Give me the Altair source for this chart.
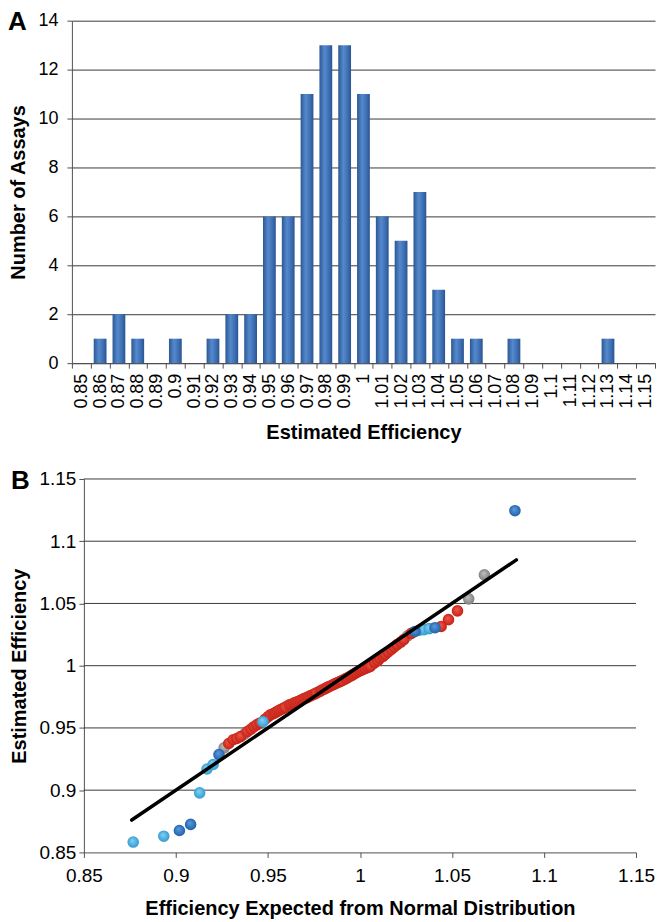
import altair as alt
import pandas as pd

# ---------------- Panel A: histogram ----------------
bins = ["0.85", "0.86", "0.87", "0.88", "0.89", "0.9", "0.91", "0.92", "0.93", "0.94",
        "0.95", "0.96", "0.97", "0.98", "0.99", "1", "1.01", "1.02", "1.03", "1.04",
        "1.05", "1.06", "1.07", "1.08", "1.09", "1.1", "1.11", "1.12", "1.13", "1.14", "1.15"]
counts = [0, 1, 2, 1, 0, 1, 0, 1, 2, 2,
          6, 6, 11, 13, 13, 11, 6, 5, 7, 3,
          1, 1, 0, 1, 0, 0, 0, 0, 1, 0, 0]
y_ticks_a = [0, 2, 4, 6, 8, 10, 12, 14]

# ---------------- Panel B: normal Q-Q plot ----------------
qq_x = [0.8768, 0.8934, 0.9019, 0.9080, 0.9129, 0.9169, 0.9202, 0.9234, 0.9262, 0.9287,
        0.9311, 0.9331, 0.9351, 0.9372, 0.9388, 0.9408, 0.9424, 0.9440, 0.9457, 0.9473,
        0.9485, 0.9501, 0.9513, 0.9530, 0.9542, 0.9554, 0.9566, 0.9580, 0.9593, 0.9605,
        0.9617, 0.9629, 0.9641, 0.9652, 0.9663, 0.9675, 0.9686, 0.9697, 0.9708, 0.9719,
        0.9730, 0.9741, 0.9752, 0.9762, 0.9773, 0.9784, 0.9794, 0.9805, 0.9816, 0.9826,
        0.9837, 0.9848, 0.9858, 0.9869, 0.9880, 0.9891, 0.9902, 0.9913, 0.9924, 0.9935,
        0.9947, 0.9958, 0.9969, 0.9981, 0.9993, 1.0005, 1.0017, 1.0030, 1.0044, 1.0056,
        1.0068, 1.0080, 1.0097, 1.0109, 1.0125, 1.0137, 1.0153, 1.0170, 1.0186, 1.0202,
        1.0222, 1.0238, 1.0259, 1.0279, 1.0299, 1.0323, 1.0348, 1.0376, 1.0408, 1.0441,
        1.0481, 1.0530, 1.0591, 1.0676, 1.0842]
qq_y = [0.8583, 0.8630, 0.8676, 0.8725, 0.8978, 0.9170, 0.9206, 0.9286, 0.9340, 0.9375,
        0.9405, 0.9415, 0.9430, 0.9450, 0.9470, 0.9490, 0.9510, 0.9525, 0.9540, 0.9550,
        0.9570, 0.9590, 0.9605, 0.9615, 0.9625, 0.9635, 0.9645, 0.9655, 0.9665, 0.9675,
        0.9685, 0.9690, 0.9700, 0.9705, 0.9712, 0.9720, 0.9728, 0.9735, 0.9742, 0.9750,
        0.9758, 0.9765, 0.9772, 0.9780, 0.9788, 0.9795, 0.9805, 0.9812, 0.9820, 0.9828,
        0.9835, 0.9843, 0.9850, 0.9858, 0.9865, 0.9872, 0.9880, 0.9888, 0.9896, 0.9905,
        0.9915, 0.9925, 0.9935, 0.9945, 0.9955, 0.9963, 0.9970, 0.9978, 0.9986, 0.9995,
        1.0010, 1.0025, 1.0040, 1.0060, 1.0075, 1.0090, 1.0110, 1.0130, 1.0150, 1.0170,
        1.0190, 1.0210, 1.0240, 1.0260, 1.0275, 1.0285, 1.0290, 1.0298, 1.0305, 1.0315,
        1.0370, 1.0440, 1.0537, 1.0730, 1.1245]
qq_group = ["light", "light", "dark", "dark", "light", "light", "light", "dark", "gray", "red",
            "red", "red", "red", "gray", "red", "red", "red", "red", "red", "light",
            "red", "red", "red", "red", "red", "red", "red", "red", "red", "gray",
            "red", "red", "red", "red", "red", "red", "red", "red", "red", "red",
            "red", "red", "red", "red", "gray", "red", "red", "red", "red", "red",
            "red", "red", "red", "red", "red", "red", "red", "gray", "red", "red",
            "red", "red", "red", "red", "red", "red", "red", "red", "red", "red",
            "gray", "red", "red", "red", "red", "red", "red", "red", "red", "red",
            "red", "red", "gray", "red", "dark", "light", "light", "light", "dark", "red",
            "red", "red", "gray", "gray", "dark"]
fit_x = [0.876, 1.085]
fit_y = [0.876, 1.085]
ticks_b = [0.85, 0.9, 0.95, 1.0, 1.05, 1.1, 1.15]
grid_b = [0.9, 0.95, 1.0, 1.05, 1.1, 1.15]

FONT = "Liberation Sans"
AXIS_COL = "#505050"
GRID_COL = "#3a3a3a"

# ---------------- build panel A ----------------
hist_df = pd.DataFrame({"bin": bins, "count": counts})

bar_fill = {
    "gradient": "linear", "x1": 0, "x2": 1, "y1": 0, "y2": 0,
    "stops": [
        {"offset": 0, "color": "#2c5894"},
        {"offset": 0.4, "color": "#5589cc"},
        {"offset": 0.75, "color": "#3d6eb3"},
        {"offset": 1, "color": "#2a5490"},
    ],
}

bars = alt.Chart(hist_df).mark_bar(
    width=alt.RelativeBandSize(0.68), fill=bar_fill
).encode(
    x=alt.X("bin:N", sort=bins,
            scale=alt.Scale(paddingInner=0, paddingOuter=0),
            axis=alt.Axis(title="Estimated Efficiency", labelAngle=270,
                          tickBand="extent", tickSize=5, labelPadding=5,
                          titlePadding=14, labelOverlap=False, grid=False,
                          labelFontSize=18)),
    y=alt.Y("count:Q", scale=alt.Scale(domain=[0, 14], nice=False),
            axis=alt.Axis(title="Number of Assays", values=y_ticks_a,
                          tickSize=5, labelPadding=9, titlePadding=9,
                          labelFontSize=18, grid=True)),
)

label_a = alt.Chart(pd.DataFrame({"t": ["A"]})).mark_text(
    align="left", baseline="top", fontSize=26, fontWeight="bold",
    font=FONT, color="black"
).encode(x=alt.value(-64), y=alt.value(-12), text="t:N")

panel_a = alt.layer(bars, label_a).properties(width=584, height=343)

# ---------------- build panel B ----------------
# B's plot starts 12 px right of A's: the x range is shifted and the
# y axis is offset into the view, grid lines drawn as rules.
SHIFT = 12
WB = 565
qq_df = pd.DataFrame({"x": qq_x, "y": qq_y, "group": qq_group})
fit_df = pd.DataFrame({"x": fit_x, "y": fit_y})
grid_df = pd.DataFrame({"g": grid_b})


def ball(center, edge):
    return {
        "gradient": "radial", "x1": 0.42, "y1": 0.35, "r1": 0,
        "x2": 0.5, "y2": 0.5, "r2": 0.55,
        "stops": [
            {"offset": 0, "color": center},
            {"offset": 1, "color": edge},
        ],
    }


ball_colors = {
    "gray": ("#c2c2c2", "#7a7a7a"),
    "red": ("#f05a48", "#c21c12"),
    "light": ("#84d3f3", "#2e96ce"),
    "dark": ("#5c9ce0", "#1d5ca4"),
}

xs = alt.Scale(domain=[0.85, 1.15], nice=False, zero=False, range=[SHIFT, WB])
ys = alt.Scale(domain=[0.85, 1.15], nice=False, zero=False)

x_enc = alt.X("x:Q", scale=xs,
              axis=alt.Axis(title="Efficiency Expected from Normal Distribution",
                            values=ticks_b, format=".2~f", grid=False,
                            tickSize=5, labelPadding=9, titlePadding=13,
                            labelFlush=False))
y_enc = alt.Y("y:Q", scale=ys,
              axis=alt.Axis(title="Estimated Efficiency", values=ticks_b,
                            format=".2~f", grid=False, tickSize=5,
                            labelPadding=3, titlePadding=9, offset=-SHIFT))

grid_rules = alt.Chart(grid_df).mark_rule(
    color=GRID_COL, strokeWidth=1
).encode(
    y=alt.Y("g:Q", scale=ys),
    x=alt.datum(0.85, scale=xs),
    x2=alt.datum(1.15),
)

base_b = alt.Chart(qq_df)
layers = []
for g in ["gray", "red", "light", "dark"]:
    c, e = ball_colors[g]
    layers.append(
        base_b.transform_filter(alt.datum.group == g)
        .mark_circle(size=135, opacity=1, fill=ball(c, e))
        .encode(x=x_enc, y=y_enc)
    )

fit_line = alt.Chart(fit_df).mark_line(
    color="black", strokeWidth=3.5, strokeCap="round"
).encode(x=alt.X("x:Q", scale=xs), y=alt.Y("y:Q", scale=ys))

label_b = alt.Chart(pd.DataFrame({"t": ["B"]})).mark_text(
    align="left", baseline="top", fontSize=26, fontWeight="bold",
    font=FONT, color="black"
).encode(x=alt.value(-73 + SHIFT), y=alt.value(-11), text="t:N")

panel_b = alt.layer(grid_rules, *layers, fit_line, label_b).properties(width=WB, height=374)

chart = alt.concat(panel_a, panel_b, columns=1, spacing=25).properties(
    padding=0
).configure_axis(
    labelFont=FONT, titleFont=FONT, labelFontSize=19, titleFontSize=20,
    labelColor="black", titleColor="black", domainColor=AXIS_COL,
    tickColor=AXIS_COL, gridColor=GRID_COL, gridOpacity=1, gridWidth=1,
    domainWidth=1, tickWidth=1,
).configure_view(strokeWidth=0)

chart.save("out.html", embed_options={"renderer": "svg", "actions": False})
